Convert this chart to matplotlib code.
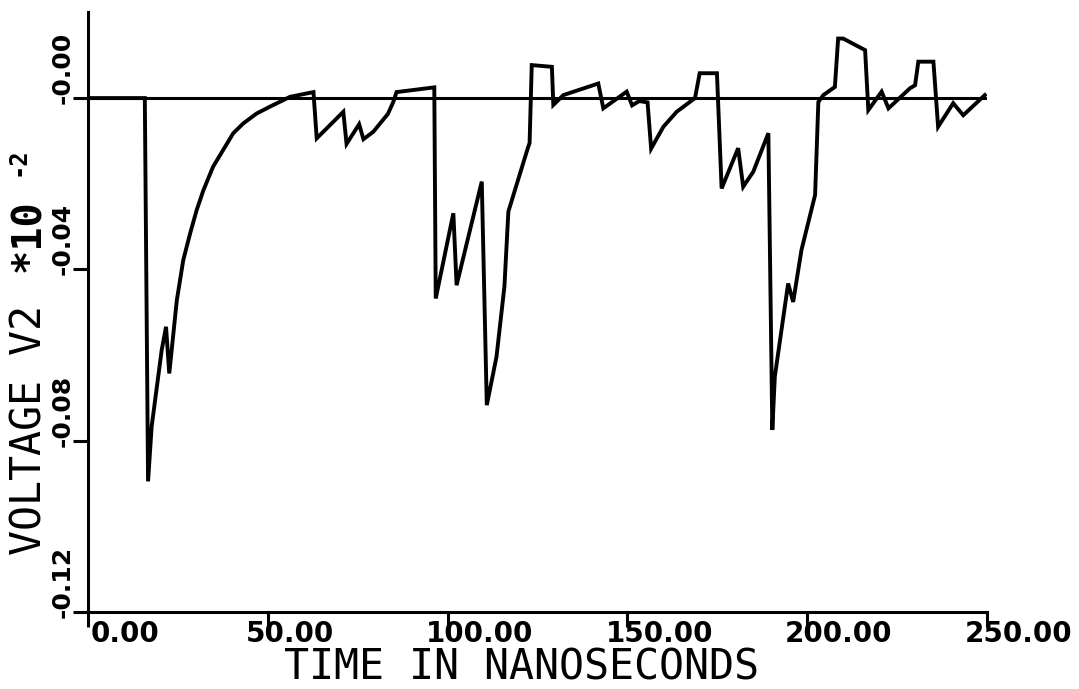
import matplotlib
matplotlib.use("Agg")
import matplotlib.pyplot as plt
from matplotlib.transforms import offset_copy

# waveform (time in ns, voltage in units of 1e-2)
time_ns = [0.0, 15.8, 16.7, 17.7, 20.5, 21.7, 22.6, 24.7, 26.5, 28.4, 30.2, 32.1,
           34.8, 37.6, 40.4, 43.2, 46.9, 50.6, 56.2, 62.7, 63.6, 71.0, 71.9, 75.4,
           76.6, 79.3, 83.4, 84.9, 85.8, 96.3, 96.7, 101.6, 102.5, 109.5, 110.9,
           113.6, 115.8, 116.9, 122.3, 122.8, 123.4, 129.0, 129.4, 132.2, 141.9,
           143.3, 149.8, 151.3, 153.3, 155.6, 156.6, 160.0, 163.7, 168.8, 170.1,
           174.9, 176.2, 180.8, 182.2, 185.0, 189.2, 190.3, 191.0, 194.7, 196.1,
           198.4, 202.2, 203.1, 204.5, 207.7, 208.6, 210.0, 216.1, 217.0, 220.7,
           222.6, 228.6, 230.0, 230.9, 235.1, 236.4, 240.6, 243.4, 249.4]
volts = [0.0, 0.0, -0.0895, -0.0767, -0.0588, -0.0534, -0.0643, -0.0472, -0.0378,
         -0.0316, -0.0262, -0.0215, -0.0160, -0.0121, -0.0082, -0.0059, -0.0036,
         -0.0020, 0.0003, 0.0014, -0.0094, -0.0032, -0.0107, -0.0061, -0.0096,
         -0.0079, -0.0037, -0.0009, 0.0014, 0.0025, -0.0468, -0.0269, -0.0437,
         -0.0195, -0.0717, -0.0604, -0.0440, -0.0265, -0.0117, -0.0105, 0.0077,
         0.0073, -0.0016, 0.0007, 0.0034, -0.0024, 0.0015, -0.0017, -0.0007,
         -0.0010, -0.0118, -0.0067, -0.0032, 0.0000, 0.0058, 0.0058, -0.0211,
         -0.0117, -0.0207, -0.0172, -0.0082, -0.0775, -0.0650, -0.0433, -0.0476,
         -0.0355, -0.0226, -0.0009, 0.0007, 0.0026, 0.0139, 0.0139, 0.0112,
         -0.0028, 0.0015, -0.0024, 0.0023, 0.0030, 0.0085, 0.0085, -0.0067,
         -0.0012, -0.0040, 0.0007]

x_ticks = [0, 50, 100, 150, 200, 250]
x_tick_labels = ["0.00", "50.00", "100.00", "150.00", "200.00", "250.00"]
y_ticks = [0.0, -0.04, -0.08, -0.12]
y_tick_labels = ["-0.00", "-0.04", "-0.08", "-0.12"]

W, H = 1079, 689
fig = plt.figure(figsize=(W / 100, H / 100), dpi=100)
ax = fig.add_axes([88 / W, (H - 612) / H, (987 - 88) / W, (612 - 12) / H])

ax.plot(time_ns, volts, color="black", lw=2.8, solid_joinstyle="miter")
ax.axhline(0, color="black", lw=2.2)

ax.set_xlim(0, 250)
ax.set_ylim(-0.12, 0.0201)
for s in ["top", "right"]:
    ax.spines[s].set_visible(False)
for s in ["left", "bottom"]:
    ax.spines[s].set_linewidth(2.2)

ax.set_xticks(x_ticks)
ax.set_yticks(y_ticks)
ax.set_xticklabels([])
ax.set_yticklabels([])
ax.tick_params(length=11, width=2.2, direction="out")

for i, (xt, lab) in enumerate(zip(x_ticks, x_tick_labels)):
    dx = 3 if i == 0 else -22
    tr = offset_copy(ax.get_xaxis_transform(), fig=fig, x=dx, y=-8, units="dots")
    ax.text(xt, 0, lab, transform=tr, ha="left", va="top",
            family="DejaVu Sans", weight="bold", size=20)

for yt, lab in zip(y_ticks, y_tick_labels):
    tr = offset_copy(ax.get_yaxis_transform(), fig=fig, x=-25, y=-6, units="dots")
    ax.text(0, yt, lab, transform=tr, rotation=90, rotation_mode="anchor",
            ha="left", va="center", family="DejaVu Sans", weight="bold", size=18)

label_font = dict(family="DejaVu Sans Mono", size=30)
fig.text(522 / W, 0, "TIME IN NANOSECONDS", ha="center",
         va="bottom", **label_font)
fig.text(29 / W, (H - 555) / H, "VOLTAGE V2", rotation=90, rotation_mode="anchor",
         ha="left", va="center", **label_font)
fig.text(29 / W, (H - 272) / H, "*10", rotation=90, rotation_mode="anchor",
         ha="left", va="center", family="DejaVu Sans Mono", weight="bold", size=29)
fig.text(17 / W, (H - 176) / H, "-2", rotation=90, rotation_mode="anchor",
         ha="left", va="center", family="DejaVu Sans Mono", weight="bold", size=17)

fig.savefig("out.png", dpi=100)
